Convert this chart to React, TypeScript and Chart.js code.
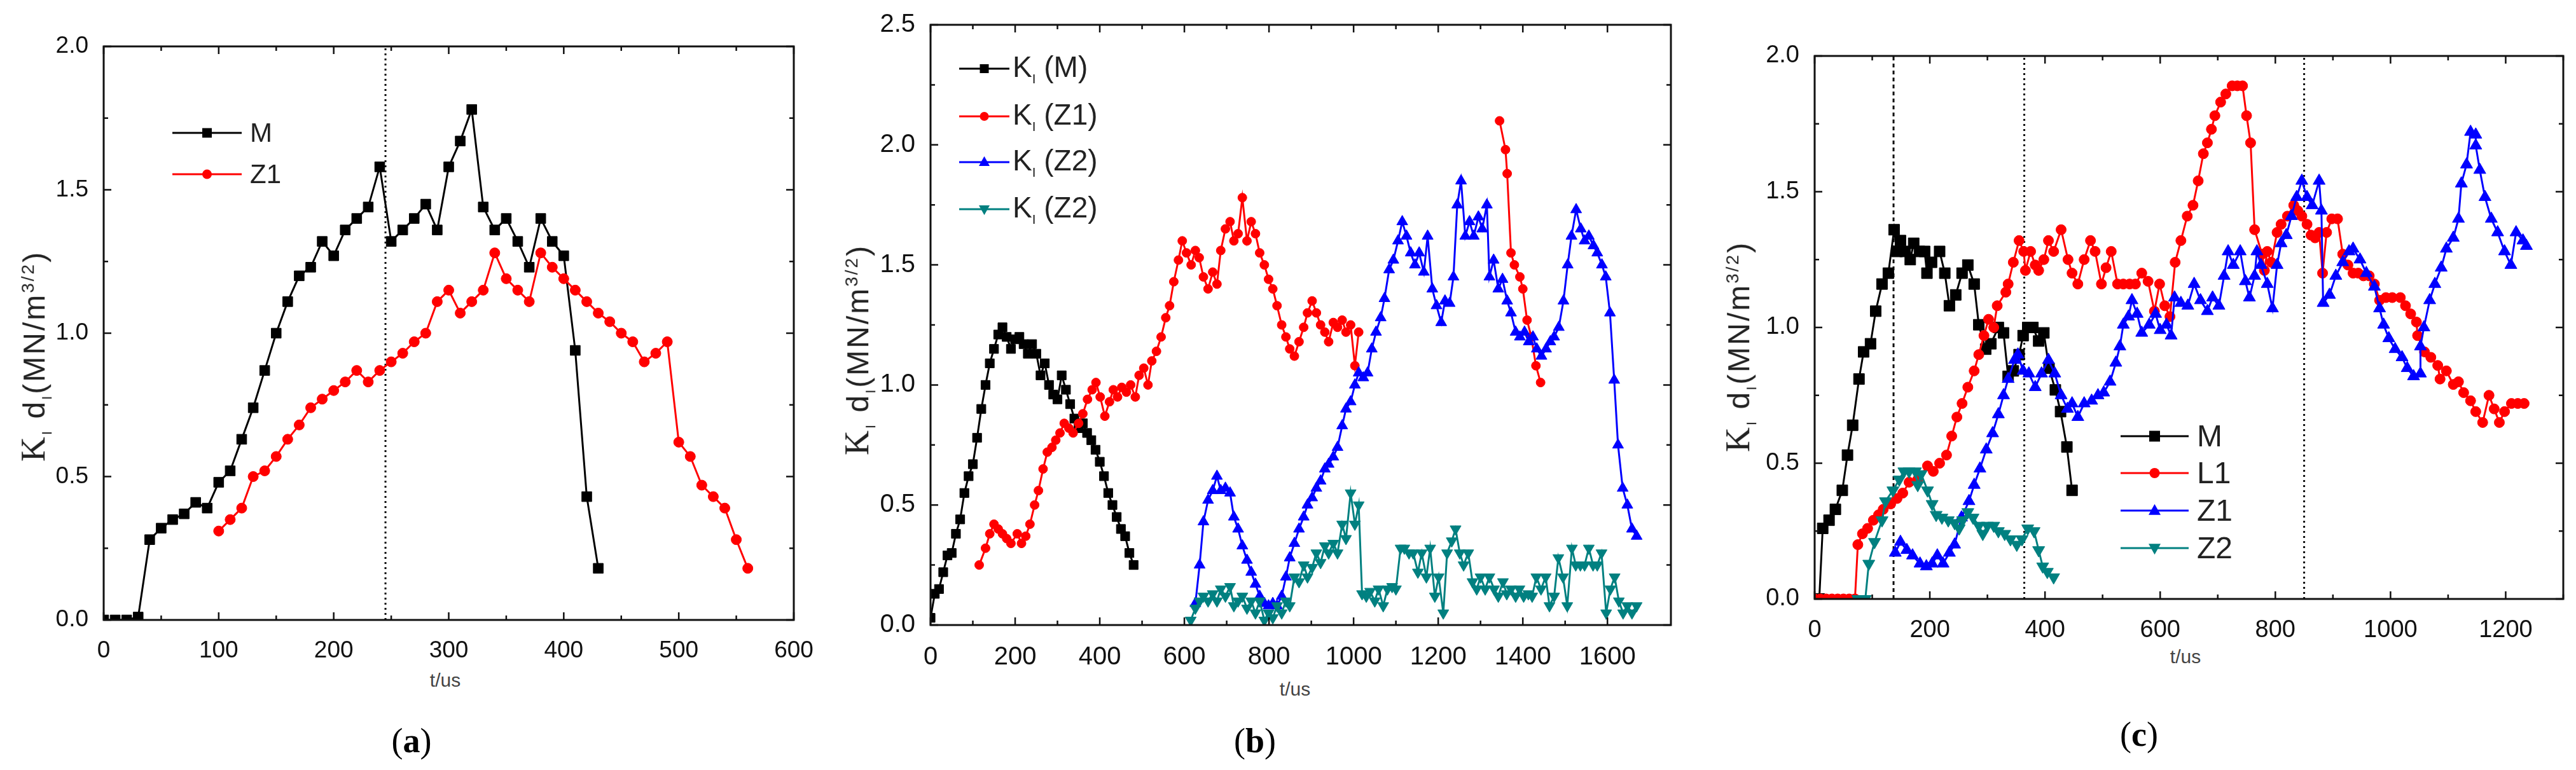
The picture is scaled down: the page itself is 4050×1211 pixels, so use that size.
import { useEffect, useRef } from 'react';
import Chart from 'chart.js/auto';

type Pt = [number, number | null];

// ---- panel (a) ----
const aM: Pt[] = [
  [0, 0], [10, 0], [20, 0], [30, 0.01], [40, 0.28], [50, 0.32], [60, 0.35], [70, 0.37], [80, 0.41], [90, 0.39],
  [100, 0.48], [110, 0.52], [120, 0.63], [130, 0.74], [140, 0.87], [150, 1.0], [160, 1.11], [170, 1.2], [180, 1.23],
  [190, 1.32], [200, 1.27], [210, 1.36], [220, 1.4], [230, 1.44], [240, 1.58], [250, 1.32], [260, 1.36], [270, 1.4],
  [280, 1.45], [290, 1.36], [300, 1.58], [310, 1.67], [320, 1.78], [330, 1.44], [340, 1.36], [350, 1.4], [360, 1.32],
  [370, 1.23], [380, 1.4], [390, 1.32], [400, 1.27], [410, 0.94], [420, 0.43], [430, 0.18],
];
const aZ1: Pt[] = [
  [100, 0.31], [110, 0.35], [120, 0.39], [130, 0.5], [140, 0.52], [150, 0.57], [160, 0.63], [170, 0.68], [180, 0.74],
  [190, 0.77], [200, 0.8], [210, 0.83], [220, 0.87], [230, 0.83], [240, 0.87], [250, 0.9], [260, 0.93], [270, 0.97],
  [280, 1.0], [290, 1.11], [300, 1.15], [310, 1.07], [320, 1.11], [330, 1.15], [340, 1.28], [350, 1.19], [360, 1.15],
  [370, 1.11], [380, 1.28], [390, 1.23], [400, 1.19], [410, 1.15], [420, 1.11], [430, 1.07], [440, 1.04], [450, 1.0],
  [460, 0.97], [470, 0.9], [480, 0.93], [490, 0.97], [500, 0.62], [510, 0.57], [520, 0.47], [530, 0.43], [540, 0.39],
  [550, 0.28], [560, 0.18],
];
const aGuides = [245];

// ---- panel (b) ----
const bM: Pt[] = [
  [0, 0.03], [10, 0.13], [20, 0.15], [30, 0.22], [40, 0.29], [50, 0.3], [60, 0.38], [70, 0.44], [80, 0.55], [90, 0.62],
  [100, 0.67], [110, 0.78], [120, 0.9], [130, 1.0], [140, 1.09], [150, 1.15], [160, 1.21], [170, 1.24], [180, 1.2],
  [190, 1.15], [200, 1.19], [210, 1.2], [220, 1.17], [230, 1.13], [240, 1.17], [250, 1.13], [260, 1.04], [270, 1.09],
  [280, 1.0], [290, 0.96], [300, 0.94], [310, 1.04], [320, 0.98], [330, 0.92], [340, 0.86], [350, 0.82], [360, 0.84],
  [370, 0.8], [380, 0.77], [390, 0.73], [400, 0.68], [410, 0.62], [420, 0.55], [430, 0.5], [440, 0.45], [450, 0.4],
  [460, 0.37], [470, 0.3], [480, 0.25],
];
const bZ1: Pt[] = [
  [115, 0.25], [130, 0.32], [140, 0.38], [150, 0.42], [160, 0.4], [170, 0.38], [180, 0.36], [190, 0.34], [205, 0.38],
  [215, 0.34], [225, 0.37], [235, 0.42], [246, 0.5], [255, 0.56], [266, 0.65], [276, 0.72], [287, 0.74], [296, 0.77],
  [306, 0.8], [316, 0.84], [327, 0.82], [337, 0.8], [350, 0.84], [360, 0.88], [371, 0.94], [382, 0.98], [391, 1.01],
  [401, 0.95], [412, 0.87], [423, 0.93], [432, 0.98], [442, 0.95], [452, 0.99], [463, 0.97], [473, 1.0], [484, 0.95],
  [493, 1.04], [504, 1.07], [514, 1.0], [523, 1.1], [534, 1.14], [545, 1.2], [556, 1.28], [565, 1.33], [575, 1.43],
  [586, 1.52], [595, 1.6], [605, 1.55], [616, 1.5], [626, 1.56], [635, 1.53], [645, 1.45], [656, 1.4], [667, 1.47],
  [677, 1.42], [686, 1.56], [697, 1.65], [708, 1.68], [717, 1.6], [727, 1.63], [737, 1.78], [748, 1.6], [758, 1.68],
  [768, 1.63], [778, 1.55], [789, 1.5], [799, 1.44], [809, 1.4], [819, 1.33], [830, 1.25], [840, 1.2], [849, 1.15],
  [860, 1.12], [871, 1.18], [882, 1.24], [891, 1.3], [902, 1.35], [912, 1.3], [922, 1.25], [932, 1.22], [941, 1.18],
  [952, 1.26], [962, 1.24], [973, 1.27], [982, 1.22], [993, 1.25], [1003, 1.08], [1012, 1.22],
  [1180, null],
  [1345, 2.1], [1359, 1.98], [1363, 1.88], [1372, 1.55], [1380, 1.5], [1393, 1.45], [1400, 1.4], [1410, 1.27],
  [1420, 1.2], [1431, 1.08], [1442, 1.01],
];
const bZ2: Pt[] = [
  [626, 0.09], [636, 0.25], [645, 0.43], [656, 0.52], [667, 0.56], [677, 0.62], [686, 0.56], [697, 0.57], [708, 0.55],
  [717, 0.45], [727, 0.4], [737, 0.33], [748, 0.27], [758, 0.22], [768, 0.17], [778, 0.12], [789, 0.09], [799, 0.08],
  [809, 0.09], [819, 0.08], [830, 0.12], [840, 0.2], [849, 0.28], [860, 0.34], [871, 0.4], [882, 0.45], [891, 0.5],
  [902, 0.53], [912, 0.57], [922, 0.6], [932, 0.65], [941, 0.67], [952, 0.7], [962, 0.74], [973, 0.83], [982, 0.9],
  [993, 0.93], [1003, 1.0], [1012, 1.05], [1023, 1.03], [1033, 1.05], [1043, 1.15], [1053, 1.22], [1064, 1.28],
  [1073, 1.36], [1084, 1.48], [1094, 1.52], [1105, 1.6], [1115, 1.68], [1125, 1.62], [1135, 1.55], [1145, 1.5],
  [1155, 1.55], [1166, 1.47], [1175, 1.62], [1186, 1.4], [1196, 1.33], [1207, 1.26], [1216, 1.35], [1227, 1.34],
  [1236, 1.45], [1245, 1.75], [1254, 1.85], [1264, 1.62], [1274, 1.68], [1284, 1.62], [1295, 1.7], [1304, 1.65],
  [1315, 1.75], [1321, 1.45], [1331, 1.52], [1342, 1.4], [1352, 1.44], [1363, 1.35], [1372, 1.3], [1383, 1.22],
  [1393, 1.2], [1404, 1.22], [1414, 1.18], [1424, 1.2], [1433, 1.15], [1444, 1.12], [1455, 1.15], [1465, 1.18],
  [1474, 1.2], [1485, 1.24], [1496, 1.35], [1506, 1.5], [1515, 1.62], [1526, 1.73], [1537, 1.65], [1546, 1.6],
  [1556, 1.62], [1567, 1.58], [1576, 1.55], [1587, 1.5], [1596, 1.45], [1606, 1.3], [1616, 1.02], [1625, 0.75],
  [1636, 0.57], [1647, 0.5], [1658, 0.4], [1669, 0.37],
];
const bZ2b: Pt[] = [
  [615, 0.02], [626, 0.07], [636, 0.1], [645, 0.12], [656, 0.1], [667, 0.13], [677, 0.1], [686, 0.15], [697, 0.12],
  [708, 0.16], [717, 0.08], [727, 0.1], [737, 0.12], [748, 0.07], [758, 0.1], [768, 0.05], [778, 0.1], [789, 0.02],
  [799, 0.05], [809, 0.03], [819, 0.08], [830, 0.05], [840, 0.1], [849, 0.08], [860, 0.2], [871, 0.18], [882, 0.25],
  [891, 0.2], [902, 0.24], [912, 0.3], [922, 0.26], [932, 0.33], [941, 0.3], [952, 0.34], [962, 0.3], [973, 0.42],
  [982, 0.36], [993, 0.55], [1003, 0.42], [1012, 0.5], [1020, 0.13], [1030, 0.12], [1039, 0.14], [1050, 0.1],
  [1059, 0.15], [1070, 0.08], [1080, 0.15], [1091, 0.16], [1100, 0.15], [1111, 0.32], [1120, 0.32], [1131, 0.3],
  [1141, 0.3], [1152, 0.22], [1161, 0.3], [1172, 0.2], [1181, 0.32], [1192, 0.12], [1201, 0.2], [1212, 0.05],
  [1221, 0.3], [1232, 0.35], [1241, 0.4], [1251, 0.3], [1260, 0.25], [1271, 0.3], [1281, 0.18], [1291, 0.15],
  [1300, 0.2], [1311, 0.15], [1321, 0.2], [1332, 0.15], [1342, 0.12], [1353, 0.18], [1362, 0.13], [1372, 0.15],
  [1383, 0.12], [1392, 0.15], [1402, 0.12], [1413, 0.13], [1422, 0.12], [1432, 0.2], [1443, 0.15], [1454, 0.2],
  [1463, 0.08], [1474, 0.12], [1484, 0.28], [1495, 0.2], [1505, 0.08], [1516, 0.32], [1525, 0.25], [1536, 0.25],
  [1546, 0.25], [1556, 0.32], [1566, 0.25], [1576, 0.25], [1586, 0.3], [1597, 0.05], [1607, 0.15], [1617, 0.2],
  [1627, 0.1], [1637, 0.05], [1647, 0.08], [1658, 0.05], [1669, 0.08],
];

// ---- panel (c) ----
const cM: Pt[] = [
  [0, 0], [8, 0], [14, 0.26], [25, 0.29], [36, 0.33], [48, 0.4], [57, 0.53], [66, 0.64], [77, 0.81], [85, 0.91],
  [97, 0.94], [106, 1.06], [117, 1.16], [128, 1.2], [138, 1.36], [143, 1.28], [149, 1.32], [157, 1.28], [166, 1.25],
  [172, 1.31], [182, 1.28], [191, 1.28], [195, 1.2], [203, 1.24], [217, 1.28], [226, 1.2], [234, 1.08], [245, 1.12],
  [256, 1.2], [266, 1.23], [277, 1.16], [285, 1.01], [297, 0.92], [306, 0.94], [319, 1.0], [328, 0.98], [336, 0.82],
  [345, 0.84], [355, 0.9], [362, 0.97], [370, 1.0], [379, 1.0], [389, 0.95], [398, 0.98], [407, 0.85], [418, 0.77],
  [427, 0.69], [438, 0.56], [447, 0.4],
];
const cL1: Pt[] = [
  [0, 0], [10, 0], [20, 0], [30, 0], [40, 0], [50, 0], [60, 0], [70, 0], [75, 0.2], [83, 0.24], [92, 0.26],
  [102, 0.29], [111, 0.31], [119, 0.33], [132, 0.35], [143, 0.37], [153, 0.39], [164, 0.43], [179, 0.44], [196, 0.49],
  [206, 0.47], [217, 0.5], [229, 0.53], [238, 0.6], [247, 0.67], [256, 0.72], [266, 0.78], [277, 0.84], [285, 0.9],
  [294, 0.97], [302, 1.03], [311, 1.0], [317, 1.08], [332, 1.13], [336, 1.16], [345, 1.24], [355, 1.32], [363, 1.28],
  [366, 1.21], [375, 1.28], [383, 1.23], [389, 1.21], [398, 1.25], [406, 1.32], [415, 1.28], [428, 1.36], [440, 1.25],
  [447, 1.2], [457, 1.16], [468, 1.25], [479, 1.32], [487, 1.28], [498, 1.16], [506, 1.22], [515, 1.28], [526, 1.16],
  [536, 1.16], [547, 1.16], [557, 1.16], [568, 1.2], [579, 1.17], [590, 1.06], [599, 1.16], [608, 1.08], [617, 1.04],
  [626, 1.24], [636, 1.32], [647, 1.41], [657, 1.45], [666, 1.54], [675, 1.64], [682, 1.68], [689, 1.73], [695, 1.78],
  [705, 1.83], [714, 1.86], [725, 1.89], [734, 1.89], [743, 1.89], [750, 1.78], [757, 1.68], [764, 1.36], [777, 1.27],
  [781, 1.21], [786, 1.28], [793, 1.24], [803, 1.35], [810, 1.38], [821, 1.41], [832, 1.45], [839, 1.43], [846, 1.41],
  [855, 1.38], [862, 1.34], [869, 1.33], [876, 1.35], [882, 1.2], [889, 1.35], [898, 1.4], [908, 1.4], [917, 1.27],
  [926, 1.23], [935, 1.2], [944, 1.2], [953, 1.19], [963, 1.19], [972, 1.16], [981, 1.1], [992, 1.11], [1003, 1.11],
  [1017, 1.11], [1026, 1.08], [1035, 1.05], [1045, 1.02], [1047, 0.97], [1059, 0.91], [1070, 0.89], [1082, 0.86],
  [1086, 0.81], [1097, 0.84], [1109, 0.79], [1118, 0.8], [1127, 0.76], [1139, 0.73], [1148, 0.69], [1160, 0.65],
  [1171, 0.75], [1180, 0.7], [1189, 0.65], [1198, 0.69], [1210, 0.72], [1221, 0.72], [1232, 0.72],
];
const cZ1: Pt[] = [
  [140, 0.17], [149, 0.21], [160, 0.18], [170, 0.16], [183, 0.13], [194, 0.12], [204, 0.13], [213, 0.16], [223, 0.13],
  [234, 0.17], [243, 0.2], [255, 0.3], [268, 0.36], [277, 0.42], [287, 0.48], [298, 0.55], [309, 0.61], [319, 0.68],
  [328, 0.75], [336, 0.81], [347, 0.88], [353, 0.9], [362, 0.84], [372, 0.83], [383, 0.78], [394, 0.83], [406, 0.88],
  [417, 0.83], [428, 0.75], [439, 0.7], [447, 0.72], [457, 0.67], [468, 0.72], [481, 0.73], [492, 0.75], [502, 0.76],
  [513, 0.8], [523, 0.87], [530, 0.93], [536, 1.01], [545, 1.04], [551, 1.1], [560, 1.05], [568, 0.98], [581, 1.01],
  [592, 1.05], [600, 0.99], [611, 1.01], [619, 0.97], [625, 1.11], [636, 1.09], [648, 1.08], [659, 1.16], [670, 1.1],
  [682, 1.06], [691, 1.11], [702, 1.08], [711, 1.19], [718, 1.28], [727, 1.23], [739, 1.28], [748, 1.17], [755, 1.11],
  [764, 1.19], [768, 1.28], [775, 1.23], [786, 1.16], [795, 1.07], [803, 1.23], [810, 1.31], [819, 1.34], [828, 1.41],
  [837, 1.48], [846, 1.54], [855, 1.48], [864, 1.45], [876, 1.54], [880, 1.43], [883, 1.09], [894, 1.12], [905, 1.19],
  [917, 1.24], [928, 1.28], [935, 1.29], [947, 1.25], [958, 1.2], [972, 1.15], [981, 1.07], [988, 1.01], [997, 0.96],
  [1008, 0.92], [1020, 0.89], [1029, 0.85], [1040, 0.82], [1052, 0.83], [1052, 0.93], [1058, 1.0], [1068, 1.1],
  [1077, 1.16], [1088, 1.22], [1097, 1.29], [1109, 1.33], [1118, 1.4], [1123, 1.53], [1132, 1.6], [1139, 1.72],
  [1148, 1.71], [1148, 1.67], [1155, 1.58], [1164, 1.48], [1175, 1.4], [1186, 1.35], [1198, 1.28], [1209, 1.23],
  [1218, 1.35], [1230, 1.32], [1236, 1.3],
];
const cZ2: Pt[] = [
  [75, 0], [88, 0], [94, 0.13], [104, 0.21], [117, 0.29], [123, 0.36], [136, 0.4], [147, 0.44], [155, 0.47],
  [164, 0.47], [175, 0.47], [179, 0.42], [185, 0.46], [196, 0.4], [204, 0.35], [211, 0.31], [221, 0.3], [232, 0.29],
  [243, 0.28], [251, 0.26], [257, 0.29], [266, 0.32], [275, 0.3], [285, 0.27], [292, 0.24], [300, 0.27], [311, 0.27],
  [319, 0.25], [330, 0.24], [340, 0.22], [351, 0.2], [360, 0.22], [370, 0.26], [381, 0.25], [389, 0.18], [396, 0.12],
  [404, 0.1], [415, 0.08],
];
const cGuides = [137, 364, 850];

const BLACK = '#000000';
const RED = '#ff0000';
const BLUE = '#0000ff';
const TEAL = '#008080';

type Shape = 'rect' | 'circle' | 'triangle' | 'triangleDown';

interface SeriesSpec {
  data: Pt[];
  color: string;
  shape: Shape;
  r: number;
}

interface PanelSpec {
  L: number; R: number; T: number; B: number;
  xMax: number; xMinor: number; xMajor: number;
  yMax: number;
  fontSize: number;
  series: SeriesSpec[];
  guides: number[];
}

const near = (v: number, step: number) => Math.abs(v / step - Math.round(v / step)) < 1e-6;

// box frame with inward ticks on all four sides
const framePlugin = {
  id: 'frame',
  afterDraw(chart: any, _args: any, opts: any) {
    const { ctx, chartArea: a, scales } = chart;
    ctx.save();
    ctx.strokeStyle = '#111';
    ctx.lineWidth = 3;
    ctx.strokeRect(a.left, a.top, a.right - a.left, a.bottom - a.top);
    ctx.lineWidth = 2.5;
    ctx.beginPath();
    scales.x.ticks.forEach((t: any) => {
      if (!near(t.value, opts.xMinor)) return;
      const len = near(t.value, opts.xMajor) ? 12 : 7;
      const px = scales.x.getPixelForValue(t.value);
      ctx.moveTo(px, a.bottom); ctx.lineTo(px, a.bottom - len);
      ctx.moveTo(px, a.top); ctx.lineTo(px, a.top + len);
    });
    scales.y.ticks.forEach((t: any) => {
      if (!near(t.value, 0.25)) return;
      const len = near(t.value, 0.5) ? 12 : 7;
      const py = scales.y.getPixelForValue(t.value);
      ctx.moveTo(a.left, py); ctx.lineTo(a.left + len, py);
      ctx.moveTo(a.right, py); ctx.lineTo(a.right - len, py);
    });
    ctx.stroke();
    ctx.restore();
  },
};

const Y_W = 150;
const X_H = 70;
const PAD_T = 30;
const PAD_R = 50;

function Panel({ spec }: { spec: PanelSpec }) {
  const canvasRef = useRef<HTMLCanvasElement | null>(null);

  useEffect(() => {
    if (!canvasRef.current) return;
    const font = { family: '"Liberation Sans", Arial, sans-serif', size: spec.fontSize };
    const n = spec.series.length;
    const datasets: any[] = spec.series.map((s, i) => ({
      data: s.data.map(([x, y]) => ({ x, y })),
      borderColor: s.color,
      backgroundColor: s.color,
      borderWidth: 3,
      pointStyle: s.shape === 'triangleDown' ? 'triangle' : s.shape,
      pointRotation: s.shape === 'triangleDown' ? 180 : 0,
      pointRadius: s.r,
      pointBorderWidth: 1,
      tension: 0,
      spanGaps: false,
      order: n - i,
    }));
    spec.guides.forEach((g, i) => {
      datasets.push({
        data: [{ x: g, y: 0 }, { x: g, y: spec.yMax }],
        borderColor: '#111',
        borderWidth: 3,
        borderDash: i === 0 && spec.guides.length > 1 ? [6, 5] : [3, 5],
        pointRadius: 0,
        order: 100,
      });
    });

    const chart = new Chart(canvasRef.current, {
      type: 'line',
      data: { datasets },
      options: {
        animation: false,
        responsive: true,
        maintainAspectRatio: false,
        events: [],
        layout: { padding: { top: PAD_T, right: PAD_R, left: 0, bottom: 0 } },
        plugins: {
          legend: { display: false },
          tooltip: { enabled: false },
          frame: { xMinor: spec.xMinor, xMajor: spec.xMajor },
        } as any,
        scales: {
          x: {
            type: 'linear',
            min: 0,
            max: spec.xMax,
            grid: { display: false },
            border: { display: false },
            ticks: {
              stepSize: spec.xMinor,
              autoSkip: false,
              maxRotation: 0,
              padding: 19,
              color: '#111',
              font,
              callback: (v: any) => (near(Number(v), spec.xMajor) ? String(v) : ''),
            },
            afterFit: (s: any) => {
              s.height = X_H;
              s.paddingLeft = 0;
              s.paddingRight = 0;
            },
          },
          y: {
            type: 'linear',
            min: 0,
            max: spec.yMax,
            grid: { display: false },
            border: { display: false },
            ticks: {
              stepSize: 0.25,
              autoSkip: false,
              padding: 16,
              color: '#111',
              font,
              callback: (v: any) => (near(Number(v), 0.5) ? Number(v).toFixed(1) : ''),
            },
            afterFit: (s: any) => {
              s.width = Y_W;
              s.paddingTop = 0;
              s.paddingBottom = 0;
            },
          },
        },
      },
      plugins: [framePlugin],
    });

    return () => {
      chart.destroy();
    };
  }, [spec]);

  return (
    <div
      style={{
        position: 'absolute',
        left: spec.L - Y_W,
        top: spec.T - PAD_T,
        width: spec.R - spec.L + Y_W + PAD_R,
        height: spec.B - spec.T + PAD_T + X_H,
      }}
    >
      <canvas ref={canvasRef} />
    </div>
  );
}

function Marker({ shape, color, size, cx, cy }: { shape: Shape; color: string; size: number; cx: number; cy: number }) {
  if (shape === 'rect') return <rect x={cx - size / 2} y={cy - size / 2} width={size} height={size} fill={color} />;
  if (shape === 'circle') return <circle cx={cx} cy={cy} r={size / 2} fill={color} />;
  const h = size * 0.9;
  const pts = shape === 'triangle'
    ? `${cx},${cy - h * 0.6} ${cx - size / 2},${cy + h * 0.4} ${cx + size / 2},${cy + h * 0.4}`
    : `${cx},${cy + h * 0.6} ${cx - size / 2},${cy - h * 0.4} ${cx + size / 2},${cy - h * 0.4}`;
  return <polygon points={pts} fill={color} />;
}

interface LegendSpec {
  x1: number; x2: number; tx: number; rows: number[]; fontSize: number;
  items: { label: any; color: string; shape: Shape; size: number }[];
}

function Legend({ spec }: { spec: LegendSpec }) {
  const w = spec.x2 - spec.x1;
  return (
    <>
      {spec.items.map((it, i) => (
        <div key={i}>
          <svg
            width={w}
            height={30}
            style={{ position: 'absolute', left: spec.x1, top: spec.rows[i] - 15 }}
          >
            <line x1={0} y1={15} x2={w} y2={15} stroke={it.color} strokeWidth={3} />
            <Marker shape={it.shape} color={it.color} size={it.size} cx={w / 2} cy={15} />
          </svg>
          <div
            style={{
              position: 'absolute',
              left: spec.tx,
              top: spec.rows[i],
              transform: 'translateY(-50%)',
              fontFamily: '"Liberation Sans", Arial, sans-serif',
              fontSize: spec.fontSize,
              color: '#222',
              whiteSpace: 'nowrap',
              lineHeight: 1,
            }}
          >
            {it.label}
          </div>
        </div>
      ))}
    </>
  );
}

function YTitle({ cx, cy }: { cx: number; cy: number }) {
  return (
    <div
      style={{
        position: 'absolute',
        left: cx,
        top: cy,
        transform: 'translate(-50%, -50%) rotate(-90deg)',
        whiteSpace: 'nowrap',
        fontFamily: '"Liberation Sans", Arial, sans-serif',
        fontSize: 48,
        letterSpacing: 3,
        color: '#222',
        lineHeight: 1,
      }}
    >
      <span style={{ fontFamily: '"Liberation Serif", serif', fontSize: 54 }}>K</span>
      <sub style={{ fontSize: 22 }}>I</sub>
      {' '}d<sub style={{ fontSize: 22 }}>I</sub>(MN/m<sup style={{ fontSize: 28 }}>3/2</sup>)
    </div>
  );
}

function Text({ x, y, size, children, serif, color }: any) {
  return (
    <div
      style={{
        position: 'absolute',
        left: x,
        top: y,
        transform: 'translate(-50%, -50%)',
        whiteSpace: 'nowrap',
        fontFamily: serif ? '"Liberation Serif", serif' : '"Liberation Sans", Arial, sans-serif',
        fontSize: size,
        color: color || '#222',
        lineHeight: 1,
      }}
    >
      {children}
    </div>
  );
}

const specA: PanelSpec = {
  L: 163, R: 1248, T: 73, B: 975, xMax: 600, xMinor: 50, xMajor: 100, yMax: 2, fontSize: 37,
  series: [
    { data: aM, color: BLACK, shape: 'rect', r: 11 },
    { data: aZ1, color: RED, shape: 'circle', r: 8 },
  ],
  guides: aGuides,
};
const specB: PanelSpec = {
  L: 1463, R: 2627, T: 39, B: 983, xMax: 1750, xMinor: 100, xMajor: 200, yMax: 2.5, fontSize: 40,
  series: [
    { data: bM, color: BLACK, shape: 'rect', r: 10 },
    { data: bZ1, color: RED, shape: 'circle', r: 7 },
    { data: bZ2, color: BLUE, shape: 'triangle', r: 10 },
    { data: bZ2b, color: TEAL, shape: 'triangleDown', r: 10 },
  ],
  guides: [],
};
const specC: PanelSpec = {
  L: 2853, R: 4030, T: 88, B: 942, xMax: 1300, xMinor: 100, xMajor: 200, yMax: 2, fontSize: 38,
  series: [
    { data: cM, color: BLACK, shape: 'rect', r: 12 },
    { data: cL1, color: RED, shape: 'circle', r: 8 },
    { data: cZ1, color: BLUE, shape: 'triangle', r: 11 },
    { data: cZ2, color: TEAL, shape: 'triangleDown', r: 11 },
  ],
  guides: cGuides,
};

const kLabel = (s: string) => (
  <span>
    K<sub style={{ fontSize: '0.45em' }}>I</sub> ({s})
  </span>
);

const legendA: LegendSpec = {
  x1: 271, x2: 380, tx: 393, rows: [209, 274], fontSize: 42,
  items: [
    { label: 'M', color: BLACK, shape: 'rect', size: 15 },
    { label: 'Z1', color: RED, shape: 'circle', size: 15 },
  ],
};
const legendB: LegendSpec = {
  x1: 1508, x2: 1587, tx: 1592, rows: [108, 183, 255, 329], fontSize: 46,
  items: [
    { label: kLabel('M'), color: BLACK, shape: 'rect', size: 14 },
    { label: kLabel('Z1'), color: RED, shape: 'circle', size: 14 },
    { label: kLabel('Z2'), color: BLUE, shape: 'triangle', size: 17 },
    { label: kLabel('Z2'), color: TEAL, shape: 'triangleDown', size: 17 },
  ],
};
const legendC: LegendSpec = {
  x1: 3334, x2: 3441, tx: 3454, rows: [686, 744, 803, 862], fontSize: 48,
  items: [
    { label: 'M', color: BLACK, shape: 'rect', size: 17 },
    { label: 'L1', color: RED, shape: 'circle', size: 16 },
    { label: 'Z1', color: BLUE, shape: 'triangle', size: 19 },
    { label: 'Z2', color: TEAL, shape: 'triangleDown', size: 19 },
  ],
};

export default function App() {
  return (
    <div style={{ position: 'absolute', left: 0, top: 0, width: 4050, height: 1211, background: '#fff', overflow: 'hidden' }}>
      <Panel spec={specA} />
      <Panel spec={specB} />
      <Panel spec={specC} />
      <Legend spec={legendA} />
      <Legend spec={legendB} />
      <Legend spec={legendC} />
      <YTitle cx={55} cy={560} />
      <YTitle cx={1350} cy={550} />
      <YTitle cx={2735} cy={545} />
      <Text x={700} y={1070} size={30} color="#444">t/us</Text>
      <Text x={2036} y={1084} size={30} color="#444">t/us</Text>
      <Text x={3436} y={1033} size={30} color="#444">t/us</Text>
      <Text x={647} y={1165} size={54} serif color="#000">(<b>a</b>)</Text>
      <Text x={1973} y={1165} size={54} serif color="#000">(<b>b</b>)</Text>
      <Text x={3363} y={1155} size={54} serif color="#000">(<b>c</b>)</Text>
    </div>
  );
}
